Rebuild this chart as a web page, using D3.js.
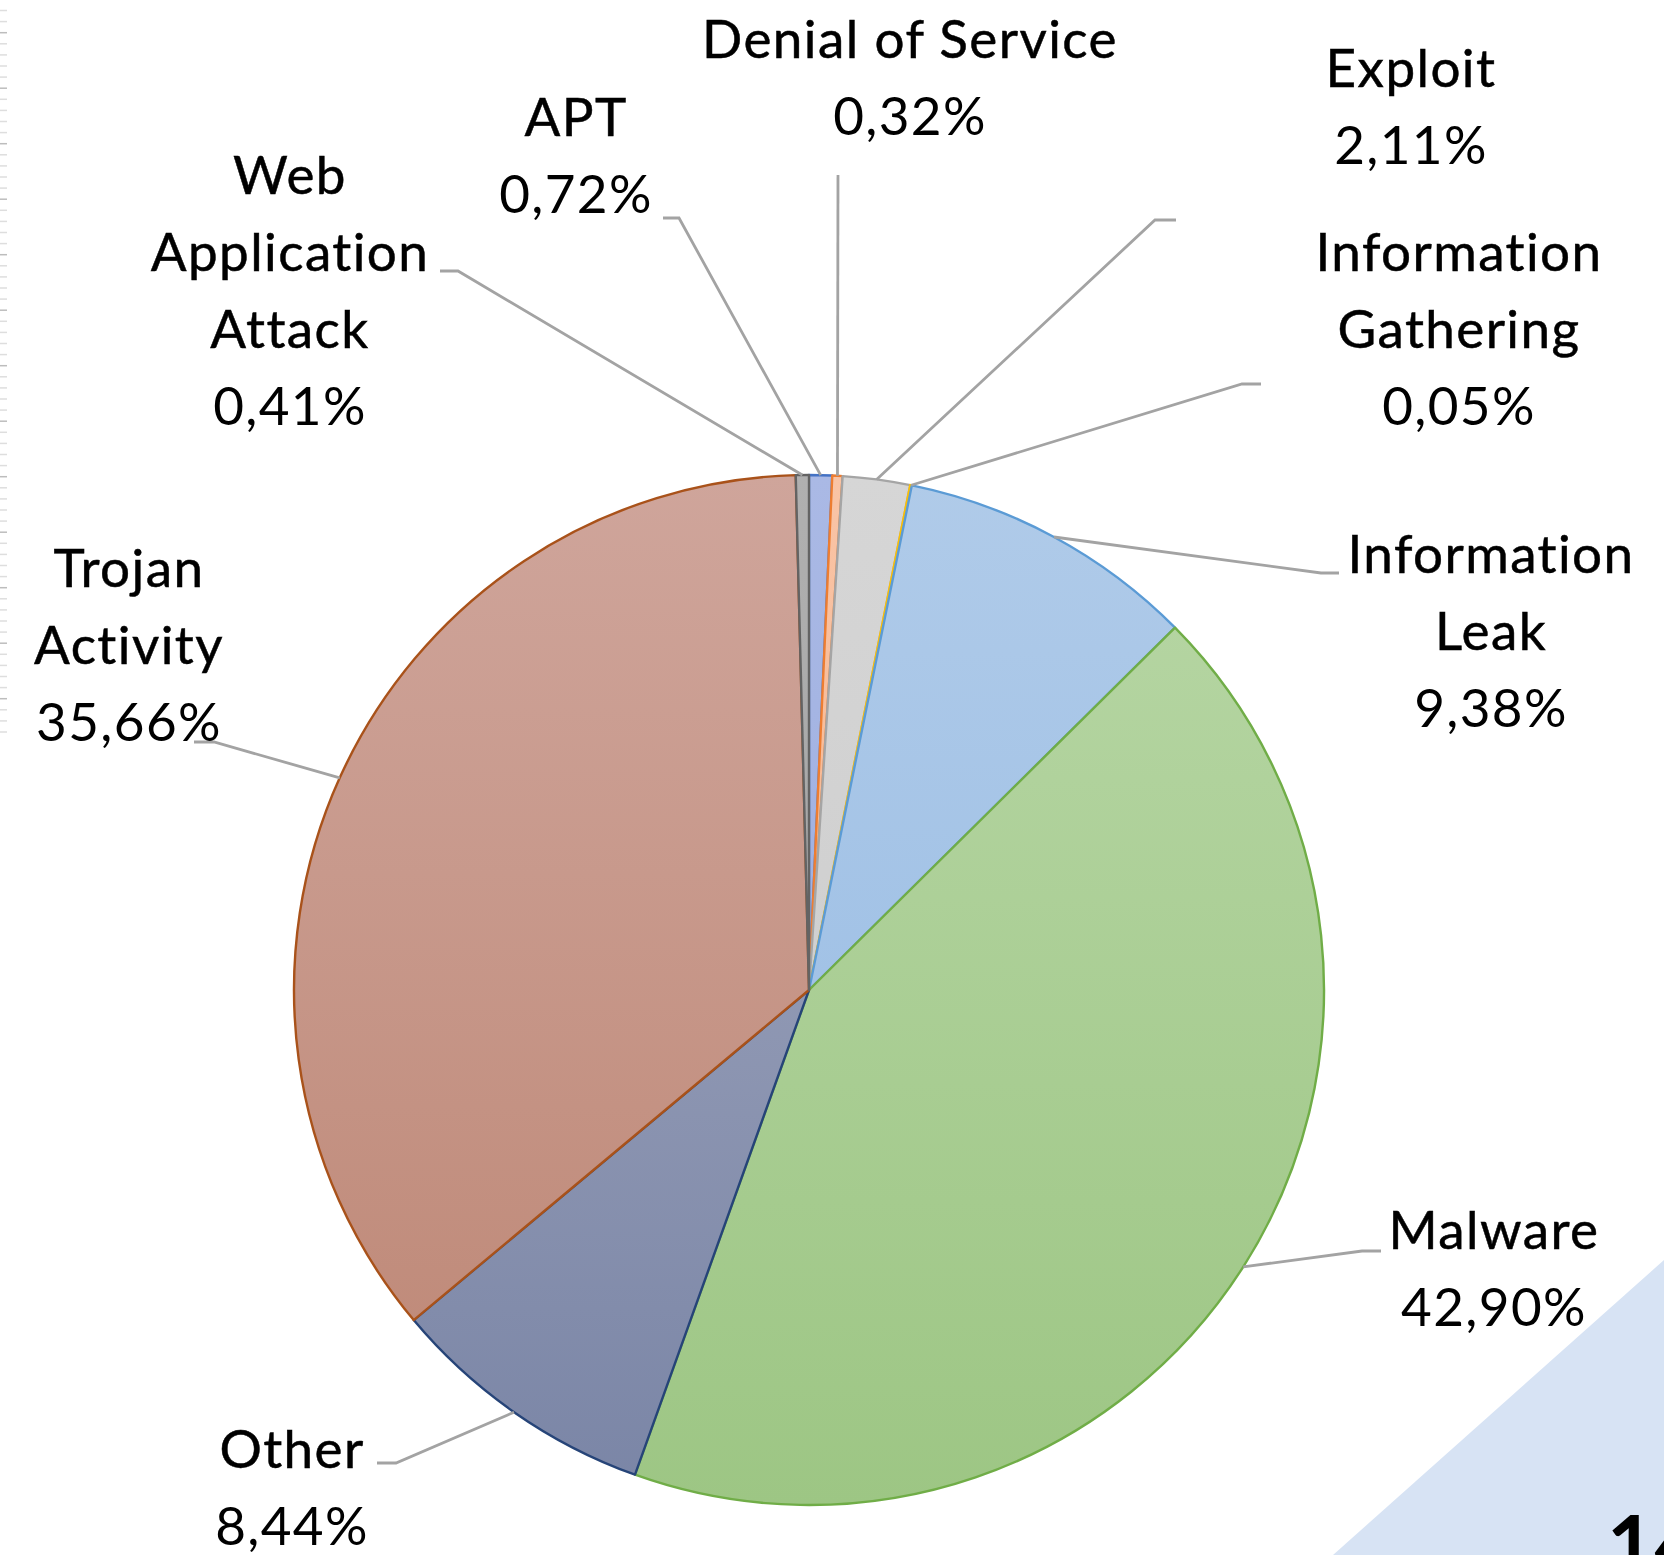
<html>
<script src='https://d3js.org/d3.v7.min.js'></script>
<style>
  body {margin: 0; background: #fff;}
  text {font-family: Lato, 'Open Sans', sans-serif; fill: #000;}
  .name {font-size: 53px; letter-spacing: 1.4px; stroke: #000; stroke-width: 0.5px;}
  .val {font-size: 53px; letter-spacing: 1.4px; font-weight: 400;}
  .leader {fill: none; stroke: #a3a3a3; stroke-width: 2.8px;}
</style>
<body onload='init()'>
<svg width=1664 height=1555></svg>
<script>
// data (percent)
var categories = ["APT", "Denial of Service", "Exploit", "Information Gathering", "Information Leak",
                  "Malware", "Other", "Trojan Activity", "Web Application Attack"];
var shares = [0.72, 0.32, 2.11, 0.05, 9.38, 42.90, 8.44, 35.66, 0.41];
var labelLines = [["APT"], ["Denial of Service"], ["Exploit"], ["Information", "Gathering"], ["Information", "Leak"],
                  ["Malware"], ["Other"], ["Trojan", "Activity"], ["Web", "Application", "Attack"]];

// styles
var strokes = ["#4472c4", "#ed7d31", "#a5a5a5", "#ffc000", "#5b9bd5", "#70ad47", "#264478", "#a9521a", "#636363"];
var topFill = ["#aab9e5", "#f9c4a6", "#d6d6d6", "#ffe08a", "#b0cbe9", "#b8d7a6", "#a4aac0", "#cfa59b", "#b0b0b0"];
var botFill = ["#94a7dc", "#f5a878", "#c9c9c9", "#ffd560", "#93b9e3", "#9dc684", "#7a85a6", "#bd8674", "#9a9a9a"];

// label layout: text centre x, first baseline, leader start and elbow
var layout = [
  {x: 576, y: 136, lx: 663, ly: 218, ex: 679},
  {x: 910, y: 58, lx: 838, ly: 175, ex: 838},
  {x: 1411, y: 87, lx: 1176, ly: 220, ex: 1155},
  {x: 1459, y: 271, lx: 1261, ly: 384, ex: 1242},
  {x: 1491, y: 573, lx: 1339, ly: 573, ex: 1321},
  {x: 1494, y: 1249, lx: 1381, ly: 1251, ex: 1362},
  {x: 292, y: 1468, lx: 377, ly: 1463, ex: 396},
  {x: 129, y: 587, lx: 194, ly: 742, ex: 214},
  {x: 290, y: 194, lx: 440, ly: 271, ex: 458}
];
var lineGap = 77;

function init() {
  var svg = d3.select("svg");
  var cx = 809, cy = 990, r = 515;
  var fmt = function(v) { return d3.format(".2f")(v).replace(".", ",") + "%"; };

  // ruler marks on the left edge
  svg.append("g").selectAll("line").data(d3.range(0, 66)).enter().append("line")
    .attr("x1", 0).attr("x2", 7)
    .attr("y1", function(i) { return 10.5 + i * 11.1; })
    .attr("y2", function(i) { return 10.5 + i * 11.1; })
    .attr("stroke", function(i) { return i % 5 == 2 ? "#bdbdbd" : "#dedede"; })
    .attr("stroke-width", 1.5);

  // slide corner
  svg.append("polygon").attr("points", "1333,1555 1664,1260 1664,1555").attr("fill", "#d7e3f4");
  svg.append("text").attr("x", 1607).attr("y", 1575)
    .style("font-size", "82px").style("font-weight", "bold").text("14");

  var defs = svg.append("defs");
  categories.forEach(function(c, i) {
    var g = defs.append("linearGradient").attr("id", "g" + i)
      .attr("gradientUnits", "userSpaceOnUse")
      .attr("x1", 0).attr("y1", -r).attr("x2", 0).attr("y2", r);
    g.append("stop").attr("offset", 0).attr("stop-color", topFill[i]);
    g.append("stop").attr("offset", 1).attr("stop-color", botFill[i]);
  });

  var pie = d3.pie().sort(null).value(function(d) { return d; });
  var arcs = pie(shares);
  var arc = d3.arc().innerRadius(0).outerRadius(r);

  var g = svg.append("g").attr("transform", "translate(" + cx + "," + cy + ")");
  g.selectAll("path").data(arcs).enter().append("path")
    .attr("d", arc)
    .attr("fill", function(d, i) { return "url(#g" + i + ")"; })
    .attr("stroke", function(d, i) { return strokes[i]; })
    .attr("stroke-width", 2.4)
    .attr("stroke-linejoin", "round");

  // leader lines to the slice middles on the rim
  svg.selectAll("polyline").data(arcs).enter().append("polyline")
    .attr("class", "leader")
    .attr("points", function(d, i) {
      var a = (d.startAngle + d.endAngle) / 2;
      var px = cx + r * Math.sin(a), py = cy - r * Math.cos(a);
      var L = layout[i];
      return [[L.lx, L.ly], [L.ex, L.ly], [px, py]].join(" ");
    });

  // labels
  categories.forEach(function(c, i) {
    var L = layout[i];
    var t = svg.append("g");
    labelLines[i].forEach(function(s, k) {
      t.append("text").attr("class", "name").attr("text-anchor", "middle")
        .attr("x", L.x).attr("y", L.y + k * lineGap).text(s);
    });
    t.append("text").attr("class", "val").attr("text-anchor", "middle")
      .attr("x", L.x).attr("y", L.y + labelLines[i].length * lineGap).text(fmt(shares[i]));
  });
}
</script>
</body>
</html>
